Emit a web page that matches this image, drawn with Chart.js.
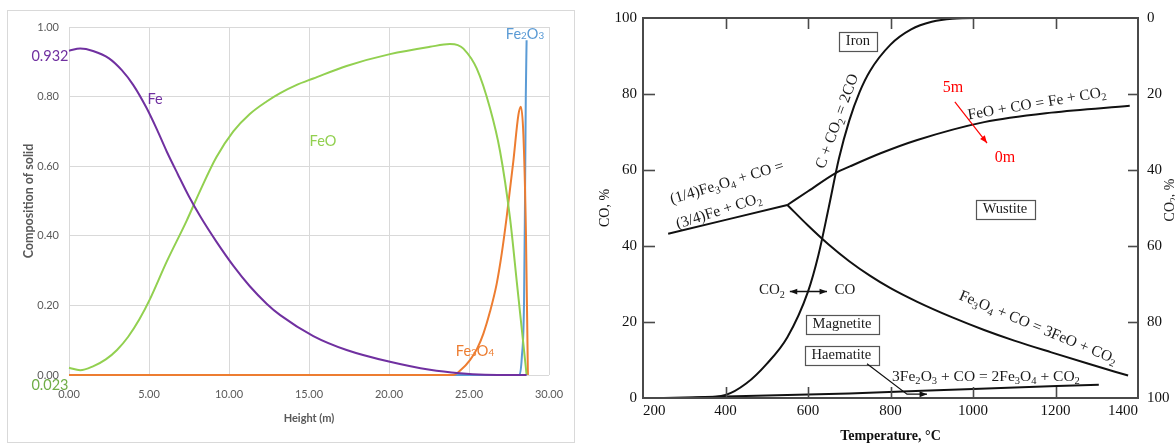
<!DOCTYPE html>
<html><head><meta charset="utf-8">
<script src="https://cdn.jsdelivr.net/npm/chart.js@4.4.1/dist/chart.umd.min.js"></script>
<style>
html,body{margin:0;padding:0;background:#fff;width:1175px;height:447px;overflow:hidden}
#left{position:absolute;left:0;top:0}
#right{position:absolute;left:580px;top:0}
</style></head><body>
<canvas id="left" width="580" height="447"></canvas>
<canvas id="right" width="595" height="447"></canvas>
<script>
// ================= LEFT CHART DATA: composition of solid vs height =================
const feHeight   = [0, 0.7, 1.5, 2.5, 3.3, 4.02, 4.85, 5.5, 6.1, 6.8, 7.5, 8.2, 9.2, 10.3, 11.3, 12.35, 13.2, 15.27, 17.35, 20.06, 22.56, 24.44, 26.0, 28.6];
const feFrac     = [0.932, 0.938, 0.931, 0.910, 0.876, 0.833, 0.767, 0.705, 0.643, 0.577, 0.513, 0.456, 0.384, 0.312, 0.255, 0.205, 0.172, 0.112, 0.072, 0.038, 0.015, 0.005, 0.001, 0];
const feoHeight  = [0, 0.7, 1.5, 2.3, 3.0, 3.7, 4.4, 5.06, 6.1, 7.35, 8.2, 9.2, 10.27, 11.3, 12.35, 13.2, 14.2, 15.27, 17.35, 20.06, 22.56, 23.81, 24.3, 24.65, 25.48, 26.31, 26.94, 27.56, 28.0, 28.44, 28.6];
const feoFrac    = [0.021, 0.014, 0.025, 0.045, 0.072, 0.110, 0.160, 0.218, 0.325, 0.443, 0.530, 0.625, 0.700, 0.750, 0.786, 0.810, 0.833, 0.852, 0.888, 0.922, 0.943, 0.951, 0.948, 0.938, 0.881, 0.767, 0.643, 0.452, 0.262, 0.071, 0];
const fe3o4Height = [0, 24.0, 24.5, 25.06, 25.5, 25.9, 26.3, 26.73, 27.05, 27.35, 27.77, 28.09, 28.24, 28.4, 28.56, 28.68];
const fe3o4Frac   = [0, 0, 0.015, 0.043, 0.075, 0.119, 0.180, 0.262, 0.350, 0.452, 0.614, 0.748, 0.771, 0.690, 0.405, 0];
const fe2o3Height = [0, 28.15, 28.3, 28.44, 28.5, 28.55, 28.6];
const fe2o3Frac   = [0, 0, 0.05, 0.21, 0.50, 0.80, 0.962];
const heightTicks = [0, 5, 10, 15, 20, 25, 30];
const heightTickLabels = ['0.00', '5.00', '10.00', '15.00', '20.00', '25.00', '30.00'];
const fracTicks = [0, 0.2, 0.4, 0.6, 0.8, 1.0];
const fracTickLabels = ['0.00', '0.20', '0.40', '0.60', '0.80', '1.00'];

// ================= RIGHT CHART DATA: Baur-Glaessner diagram =================
const boudouardT  = [320, 400, 450, 500, 550, 600, 625, 650, 675, 700, 725, 750, 800, 850, 900, 950, 1030];
const boudouardCO = [0, 0.8, 3.8, 9, 16, 28, 37.5, 50, 63, 73, 80.5, 86, 93, 97, 99, 99.8, 100];
const feoFeT      = [550, 600, 667, 703, 776, 865, 1027, 1190, 1380];
const feoFeCO     = [50.8, 54.4, 59.2, 61, 64.4, 67.9, 72.6, 75.1, 76.9];
const magWusT     = [550, 600, 650, 700, 750, 800, 865, 950, 1027, 1100, 1190, 1280, 1376];
const magWusCO    = [50.8, 45.4, 40.4, 36.0, 32.2, 28.9, 25.3, 21.2, 17.9, 15.1, 12.0, 9.0, 5.9];
const magFeT      = [261, 550];
const magFeCO     = [43.2, 50.8];
const haemT       = [250, 700, 1000, 1305];
const haemCO      = [0, 1.2, 2.4, 3.5];
const tempTicks   = [200, 400, 600, 800, 1000, 1200, 1400];
const tempTickLabels = ['200', '400', '600', '800', '1000', '1200', '1400'];
const coTicks     = [0, 20, 40, 60, 80, 100];
const coTickLabels = ['0', '20', '40', '60', '80', '100'];
const co2TickLabels = ['0', '20', '40', '60', '80', '100'];

const pts = (xs, ys) => xs.map((x, i) => ({x: x, y: ys[i]}));
const SERIF = "'Liberation Serif', 'DejaVu Serif', serif";
const SANS = "Lato, 'Open Sans', sans-serif";

// ---------- rich text helper (supports _d subscripts) ----------
function richParts(text) {
  const parts = []; const re = /_(\d)/g; let last = 0, m;
  while ((m = re.exec(text))) {
    if (m.index > last) parts.push({t: text.slice(last, m.index), sub: false});
    parts.push({t: m[1], sub: true}); last = re.lastIndex;
  }
  if (last < text.length) parts.push({t: text.slice(last), sub: false});
  return parts;
}
function drawRich(ctx, text, x, y, o) {
  const parts = richParts(text);
  const size = o.size, sub = size * 0.68, fam = o.family, wt = o.weight || 'normal';
  ctx.save(); ctx.translate(x, y); ctx.rotate((o.rot || 0) * Math.PI / 180);
  ctx.fillStyle = o.color; ctx.textBaseline = 'middle'; ctx.textAlign = 'left';
  let w = 0;
  parts.forEach(p => { ctx.font = wt + ' ' + (p.sub ? sub : size) + 'px ' + fam; p.w = ctx.measureText(p.t).width; w += p.w; });
  let cx = -w / 2;
  parts.forEach(p => { ctx.font = wt + ' ' + (p.sub ? sub : size) + 'px ' + fam; ctx.fillText(p.t, cx, p.sub ? size * (o.subShift || 0.3) : 0); cx += p.w; });
  ctx.restore();
  return w;
}
function arrowHead(ctx, x1, y1, x2, y2, len, color) {
  const a = Math.atan2(y2 - y1, x2 - x1);
  ctx.save(); ctx.fillStyle = color; ctx.beginPath();
  ctx.moveTo(x2, y2);
  ctx.lineTo(x2 - len * Math.cos(a - 0.38), y2 - len * Math.sin(a - 0.38));
  ctx.lineTo(x2 - len * Math.cos(a + 0.38), y2 - len * Math.sin(a + 0.38));
  ctx.closePath(); ctx.fill(); ctx.restore();
}

// ================= LEFT CHART =================
const leftNotes = [
  {text: '0.932', x: -1.19, y: 0.917, color: '#7030A0'},
  {text: 'Fe', x: 5.375, y: 0.791, color: '#7030A0'},
  {text: 'FeO', x: 15.875, y: 0.671, color: '#92D050'},
  {text: 'Fe_2O_3', x: 28.5, y: 0.98, color: '#5B9BD5'},
  {text: 'Fe_3O_4', x: 25.375, y: 0.0686, color: '#ED7D31'},
  {text: '0.023', x: -1.19, y: -0.0286, color: '#70AD47'}
];
const leftPlugin = {
  id: 'leftDeco',
  beforeDraw(chart) {
    const c = chart.ctx; c.save(); c.strokeStyle = '#D9D9D9'; c.lineWidth = 1;
    c.strokeRect(7.5, 10.5, 567, 432); c.restore();
  },
  afterDraw(chart) {
    const c = chart.ctx, sx = chart.scales.x, sy = chart.scales.y;
    leftNotes.forEach(n => drawRich(c, n.text, sx.getPixelForValue(n.x), sy.getPixelForValue(n.y),
      {size: 14.5, family: SANS, color: n.color, subShift: 0.12}));
  }
};
const lineDs = (label, xs, ys, color) => ({
  label: label, data: pts(xs, ys), showLine: true, borderColor: color, backgroundColor: color,
  borderWidth: 2, pointRadius: 0, cubicInterpolationMode: 'monotone', clip: false
});
new Chart(document.getElementById('left'), {
  type: 'scatter',
  data: {datasets: [
    lineDs('Fe', feHeight, feFrac, '#7030A0'),
    lineDs('FeO', feoHeight, feoFrac, '#92D050'),
    lineDs('Fe3O4', fe3o4Height, fe3o4Frac, '#ED7D31'),
    lineDs('Fe2O3', fe2o3Height, fe2o3Frac, '#5B9BD5')
  ]},
  options: {
    responsive: false, animation: false, events: [],
    layout: {padding: {left: 0, right: 31, top: 27, bottom: 0}},
    plugins: {legend: {display: false}, tooltip: {enabled: false}},
    scales: {
      x: {
        type: 'linear', min: 0, max: 30,
        afterBuildTicks: s => { s.ticks = heightTicks.map(v => ({value: v})); },
        afterFit: s => { s.height = 72; },
        ticks: {padding: 13, color: '#595959', font: {family: SANS, size: 11}, maxRotation: 0,
          callback: v => heightTickLabels[heightTicks.indexOf(v)]},
        grid: {color: '#D9D9D9', lineWidth: 1, drawTicks: false},
        border: {display: false},
        title: {display: true, text: 'Height (m)', color: '#595959', font: {family: SANS, size: 11, weight: 'bold'}, padding: {top: 0, bottom: 22}}
      },
      y: {
        type: 'linear', min: 0, max: 1,
        afterBuildTicks: s => { s.ticks = fracTicks.map(v => ({value: v})); },
        afterFit: s => { s.width = 69; },
        ticks: {padding: 10, color: '#595959', font: {family: SANS, size: 11},
          callback: v => fracTickLabels[fracTicks.findIndex(t => Math.abs(t - v) < 1e-9)]},
        grid: {color: '#D9D9D9', lineWidth: 1, drawTicks: false},
        border: {display: false},
        title: {display: true, text: 'Composition of solid', color: '#595959', font: {family: SANS, size: 12.5, weight: 'bold'}, padding: {top: 21, bottom: 0}}
      }
    }
  },
  plugins: [leftPlugin]
});

// ================= RIGHT CHART =================
const rightNotes = [
  {type: 'box', text: 'Iron', T: 721, CO: 93.8},
  {type: 'text', text: 'C + CO_2 = 2CO', T: 671.5, CO: 72.8, rot: -70},
  {type: 'text', text: '(1/4)Fe_3O_4 + CO =', T: 403.6, CO: 56.6, rot: -17},
  {type: 'text', text: '(3/4)Fe + CO_2', T: 384, CO: 49.1, rot: -17.5},
  {type: 'text', text: 'FeO + CO = Fe + CO_2', T: 1155, CO: 77.4, rot: -9.5},
  {type: 'box', text: 'Wustite', T: 1077.6, CO: 49.7},
  {type: 'text', text: 'Fe_3O_4 + CO = 3FeO + CO_2', T: 1157.6, CO: 18.5, rot: 22.6},
  {type: 'text', text: '3Fe_2O_3 + CO = 2Fe_3O_4 + CO_2', T: 1031.5, CO: 5.65, rot: 0},
  {type: 'text', text: 'CO_2', T: 512.7, CO: 28.3, size: 15},
  {type: 'text', text: 'CO', T: 689.7, CO: 28.3, size: 15},
  {type: 'box', text: 'Magnetite', T: 682.4, CO: 19.4},
  {type: 'box', text: 'Haematite', T: 681, CO: 11.3},
  {type: 'text', text: '5m', T: 951.5, CO: 81.7, color: '#FF0000', size: 16},
  {type: 'text', text: '0m', T: 1077.6, CO: 63.2, color: '#FF0000', size: 16}
];
const rightArrows = [
  {path: [[956, 77.9], [1034, 67.1]], color: '#FF0000', width: 1.2, start: false, end: true},
  {path: [[556, 28], [646, 28]], color: '#111', width: 1.5, start: true, end: true},
  {path: [[743, 9], [840, 1.0], [888.5, 1.0]], color: '#111', width: 1.2, start: false, end: true}
];
const rightPlugin = {
  id: 'rightDeco',
  afterDraw(chart) {
    const c = chart.ctx, a = chart.chartArea, sx = chart.scales.x, sy = chart.scales.y;
    c.save();
    c.strokeStyle = '#4a4a4a'; c.lineWidth = 2;
    c.strokeRect(a.left, a.top, a.right - a.left, a.bottom - a.top);
    c.lineWidth = 1.6;
    tempTicks.slice(1, -1).forEach(v => {
      const x = Math.round(sx.getPixelForValue(v)) + 0.5;
      c.beginPath(); c.moveTo(x, a.top); c.lineTo(x, a.top + 11); c.stroke();
      c.beginPath(); c.moveTo(x, a.bottom); c.lineTo(x, a.bottom - 11); c.stroke();
    });
    coTicks.slice(1, -1).forEach(v => {
      const y = Math.round(sy.getPixelForValue(v)) + 0.5;
      c.beginPath(); c.moveTo(a.left, y); c.lineTo(a.left + 12, y); c.stroke();
      c.beginPath(); c.moveTo(a.right, y); c.lineTo(a.right - 10, y); c.stroke();
    });
    // right axis title (reads bottom to top)
    drawRich(c, 'CO_2, %', 590, 200, {size: 14, family: SERIF, color: '#222', rot: -90});
    // annotations
    rightNotes.forEach(n => {
      const x = sx.getPixelForValue(n.T), y = sy.getPixelForValue(n.CO);
      const size = n.size || (n.type === 'box' ? 14.5 : 15.5);
      const w = drawRich(c, n.text, x, y, {size: size, family: SERIF, color: n.color || '#1a1a1a', rot: n.rot || 0});
      if (n.type === 'box') {
        c.save(); c.strokeStyle = '#555'; c.lineWidth = 1.2;
        const bw = w + 14, bh = 19;
        c.strokeRect(Math.round(x - bw / 2) + 0.5, Math.round(y - bh / 2) + 0.5, Math.round(bw), bh);
        c.restore();
      }
    });
    rightArrows.forEach(ar => {
      const p = ar.path.map(q => [sx.getPixelForValue(q[0]), sy.getPixelForValue(q[1])]);
      c.save(); c.strokeStyle = ar.color; c.lineWidth = ar.width;
      c.beginPath(); c.moveTo(p[0][0], p[0][1]);
      for (let i = 1; i < p.length; i++) c.lineTo(p[i][0], p[i][1]);
      c.stroke(); c.restore();
      const n = p.length;
      if (ar.end) arrowHead(c, p[n - 2][0], p[n - 2][1], p[n - 1][0], p[n - 1][1], 8, ar.color);
      if (ar.start) arrowHead(c, p[1][0], p[1][1], p[0][0], p[0][1], 8, ar.color);
    });
    c.restore();
  }
};
const blackDs = (label, xs, ys) => ({
  label: label, data: pts(xs, ys), showLine: true, borderColor: '#111', backgroundColor: '#111',
  borderWidth: 2, pointRadius: 0, cubicInterpolationMode: 'monotone', clip: false
});
new Chart(document.getElementById('right'), {
  type: 'scatter',
  data: {datasets: [
    blackDs('C + CO2 = 2CO', boudouardT, boudouardCO),
    blackDs('FeO + CO = Fe + CO2', feoFeT, feoFeCO),
    blackDs('Fe3O4 + CO = 3FeO + CO2', magWusT, magWusCO),
    blackDs('(1/4)Fe3O4 + CO = (3/4)Fe + CO2', magFeT, magFeCO),
    blackDs('3Fe2O3 + CO = 2Fe3O4 + CO2', haemT, haemCO)
  ]},
  options: {
    responsive: false, animation: false, events: [],
    layout: {padding: {left: 0, right: 0, top: 9, bottom: 0}},
    plugins: {legend: {display: false}, tooltip: {enabled: false}},
    scales: {
      x: {
        type: 'linear', min: 200, max: 1400,
        afterBuildTicks: s => { s.ticks = tempTicks.map(v => ({value: v})); },
        afterFit: s => { s.height = 49; },
        ticks: {align: 'inner', padding: 4, color: '#111', maxRotation: 0, font: {family: SERIF, size: 15},
          callback: v => tempTickLabels[tempTicks.indexOf(v)]},
        grid: {display: false, drawTicks: false},
        border: {display: false},
        title: {display: true, text: 'Temperature, °C', color: '#111', font: {family: SERIF, size: 14, weight: 'bold'}, padding: {top: 0, bottom: 2}}
      },
      y: {
        type: 'linear', position: 'left', min: 0, max: 100,
        afterBuildTicks: s => { s.ticks = coTicks.map(v => ({value: v})); },
        afterFit: s => { s.width = 63; },
        ticks: {padding: 6, color: '#111', font: {family: SERIF, size: 15},
          callback: v => coTickLabels[coTicks.indexOf(v)]},
        grid: {display: false, drawTicks: false},
        border: {display: false},
        title: {display: true, text: 'CO, %', color: '#111', font: {family: SERIF, size: 14}, padding: {top: 17, bottom: 0}}
      },
      y2: {
        type: 'linear', position: 'right', min: 0, max: 100, reverse: true,
        afterBuildTicks: s => { s.ticks = coTicks.map(v => ({value: v})); },
        afterFit: s => { s.width = 37; },
        ticks: {padding: 9, color: '#111', font: {family: SERIF, size: 15},
          callback: v => co2TickLabels[coTicks.indexOf(v)]},
        grid: {display: false, drawTicks: false},
        border: {display: false}
      }
    }
  },
  plugins: [rightPlugin]
});
</script>
</body></html>
